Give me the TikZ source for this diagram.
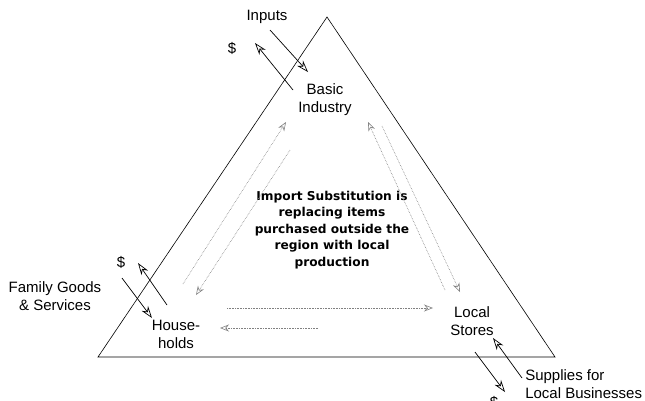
\documentclass[tikz,border=0pt]{standalone}
\usepackage{fontspec}
\setmainfont{Liberation Sans}
\newfontfamily\notefont{DejaVu Sans}
\usetikzlibrary{arrows.meta}

\begin{document}
\begin{tikzpicture}
[ x=1pt, y=-1pt, line width=0.6pt
, label/.style={font=\fontsize{15}{18}\selectfont, align=center, inner sep=0pt}
, note/.style={font=\notefont\bfseries\fontsize{12.2}{16.5}\selectfont, align=center, inner sep=0pt}
, flow/.style={-{Stealth[open, length=12pt, width=8pt]}, line width=0.7pt}
, subst/.style={densely dotted, gray, -{Stealth[open, length=9pt, width=7pt]}, line width=0.6pt}
]
\useasboundingbox (0,0) rectangle (645,400);
% Triangle:
\coordinate (top) at (327,17);
\coordinate (left) at (98,357);
\coordinate (right) at (555,357);
\draw (top) -- (left) -- (right) -- cycle;
% Corners:
\node (basic) [label] at (325,100) {Basic\\Industry};
\node (house) [label] at (176,334) {House-\\holds};
\node (stores) [label] at (472,321) {Local\\Stores};
\node (idea) [note] at (332,230) {Import Substitution is\\replacing items\\purchased outside the\\region with local\\production};
% Outside labels:
\node (inputs) [label] at (267,17) {Inputs};
\node (cash1) [label] at (232,48) {\$};
\node (family) [label] at (55,296) {Family Goods\\\& Services};
\node (cash2) [label] at (121,262) {\$};
\node (supplies) [label, align=left, anchor=west] at (525,384) {Supplies for\\Local Businesses};
\node (cash3) [label] at (494,402) {\$};
% Flow ends:
\coordinate (in1) at (270,30);  \coordinate (in2) at (308,72);
\coordinate (out1) at (293,90); \coordinate (out2) at (255,43);
\coordinate (fg1) at (122,278); \coordinate (fg2) at (152,318);
\coordinate (pay1) at (167,305); \coordinate (pay2) at (138,263);
\coordinate (su1) at (522,378); \coordinate (su2) at (493,338);
\coordinate (buy1) at (475,352); \coordinate (buy2) at (505,392);
\draw [flow] (in1) -- (in2);
\draw [flow] (out1) -- (out2);
\draw [flow] (fg1) -- (fg2);
\draw [flow] (pay1) -- (pay2);
\draw [flow] (su1) -- (su2);
\draw [flow] (buy1) -- (buy2);
% Substitution loops:
\coordinate (a1) at (183,284); \coordinate (a2) at (286,122);
\coordinate (b1) at (290,150); \coordinate (b2) at (196,295);
\coordinate (c1) at (445,290); \coordinate (c2) at (368,122);
\coordinate (d1) at (382,126); \coordinate (d2) at (460,292);
\coordinate (e1) at (227,308); \coordinate (e2) at (433,308);
\coordinate (f1) at (318,328); \coordinate (f2) at (220,328);
\draw [subst] (a1) -- (a2);
\draw [subst] (b1) -- (b2);
\draw [subst] (c1) -- (c2);
\draw [subst] (d1) -- (d2);
\draw [subst] (e1) -- (e2);
\draw [subst] (f1) -- (f2);
\end{tikzpicture}
\end{document}
